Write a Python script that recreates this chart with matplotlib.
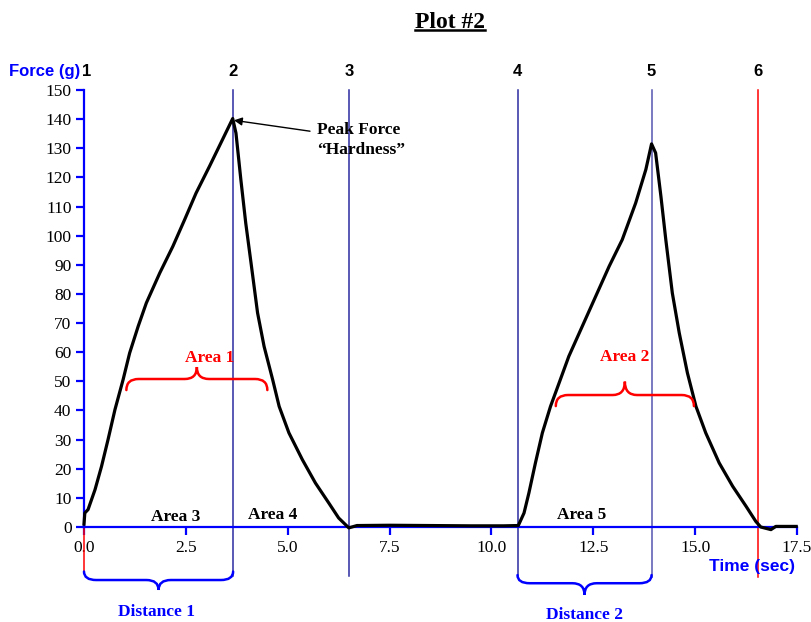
import matplotlib
matplotlib.use("Agg")
import matplotlib.pyplot as plt
from matplotlib.path import Path
from matplotlib.patches import PathPatch
from matplotlib.lines import Line2D

# ---- data ----
time_s = [0.0, 0.02, 0.1, 0.27, 0.43, 0.59, 0.76, 0.96, 1.12, 1.33, 1.53, 1.86, 2.18, 2.47, 2.75, 3.08, 3.40, 3.65,
          3.73, 3.85, 3.97, 4.10, 4.26, 4.42, 4.63, 4.79, 5.03, 5.36, 5.68, 6.01, 6.25, 6.50,
          6.7, 7.5, 8.5, 9.5, 10.3, 10.66,
          10.8, 10.92, 11.08, 11.25, 11.45, 11.66, 11.90, 12.23, 12.56, 12.89, 13.21, 13.54, 13.79, 13.93,
          14.03, 14.16, 14.28, 14.44, 14.61, 14.81, 15.02, 15.26, 15.59, 15.92, 16.25, 16.49, 16.61, 16.86, 16.98, 17.48]
force_g = [1.0, 4.8, 6, 12.8, 20.8, 30, 40.3, 50.6, 59.7, 68.9, 76.9, 87.2, 96.3, 105.5, 114.6, 123.8, 133, 140.2,
           135.2, 119.2, 104.3, 90.6, 73.5, 62, 50.6, 41.4, 32.3, 23.1, 15.1, 8.2, 3.1, -0.3,
           0.5, 0.6, 0.5, 0.4, 0.4, 0.5,
           4.8, 11.7, 22, 32.3, 41.4, 49.4, 58.6, 68.9, 79.2, 89.5, 98.6, 111.2, 122.7, 131.5,
           128.4, 113.5, 98.6, 80.3, 66.6, 52.9, 41.4, 32.3, 22, 14, 7.1, 1.9, 0, -0.9, 0.2, 0.2]

marker_times = [0.0, 3.66, 6.50, 10.64, 13.93, 16.55]
marker_labels = ["1", "2", "3", "4", "5", "6"]
marker_colors = ["#FF0000", "#2B2BA0", "#2B2BA0", "#2B2BA0", "#5555B0", "#FF0000"]
marker_bottoms = [-15.3, -16.8, -16.8, -17.0, -17.0, -17.0]

x_ticks = [0.0, 2.5, 5.0, 7.5, 10.0, 12.5, 15.0, 17.5]
x_tick_labels = ["0.0", "2.5", "5.0", "7.5", "10.0", "12.5", "15.0", "17.5"]
y_ticks = list(range(0, 151, 10))

peak_time, peak_force = 3.68, 139.6

BLUE = "#0000FF"
RED = "#FF0000"
SERIF = ["Liberation Serif", "DejaVu Serif"]
SANS = ["Liberation Sans", "DejaVu Sans"]

fig = plt.figure(figsize=(8.11, 6.22), dpi=100)
ax = fig.add_axes([84 / 811, 1 - 527 / 622, (797 - 84) / 811, (527 - 90) / 622])
ax.set_xlim(0, 17.5)
ax.set_ylim(0, 150)

for s in ["top", "right"]:
    ax.spines[s].set_visible(False)
for s in ["left", "bottom"]:
    ax.spines[s].set_color(BLUE)
    ax.spines[s].set_linewidth(1.6)

ax.set_xticks(x_ticks)
ax.set_xticklabels(x_tick_labels)
ax.set_yticks(y_ticks)
ax.tick_params(axis="both", colors=BLUE, labelcolor="black", length=6, width=1.6, labelsize=12.5, pad=3)
for lab in ax.get_xticklabels() + ax.get_yticklabels():
    lab.set_family(SERIF)

# vertical marker lines
for t, c, b, lab in zip(marker_times, marker_colors, marker_bottoms, marker_labels):
    ax.plot([t, t], [b, 150], color=c, lw=1.1, clip_on=False, zorder=2)
    ax.text(t + (0.07 if lab == "1" else 0), 156.5, lab, ha="center", va="center", fontsize=12,
            fontweight="bold", family=SANS, color="black", clip_on=False)

# force curve
ax.plot(time_s, force_g, color="black", lw=2.3, clip_on=False, zorder=3, solid_joinstyle="round")

# axis labels
ax.text(-0.96, 156.5, "Force (g)", ha="center", va="center", fontsize=12, fontweight="bold",
        family=SANS, color=BLUE, clip_on=False)
ax.text(16.4, -13.5, "Time (sec)", ha="center", va="center", fontsize=12.5, fontweight="bold",
        family=SANS, color=BLUE, clip_on=False)


def brace(x0, x1, y, d, e, color, r=0.3, lw=1.8):
    xm = (x0 + x1) / 2
    verts = [(x0, y + e), (x0, y), (x0 + r, y), (xm - r, y), (xm, y), (xm, y + d),
             (xm, y), (xm + r, y), (x1 - r, y), (x1, y), (x1, y + e)]
    codes = [Path.MOVETO, Path.CURVE3, Path.CURVE3, Path.LINETO, Path.CURVE3, Path.CURVE3,
             Path.CURVE3, Path.CURVE3, Path.LINETO, Path.CURVE3, Path.CURVE3]
    ax.add_patch(PathPatch(Path(verts, codes), fill=False, edgecolor=color, lw=lw,
                           clip_on=False, zorder=4, capstyle="round"))


brace(1.04, 4.50, 50.8, 4.1, -3.8, RED)
brace(11.58, 14.97, 45.3, 4.6, -3.8, RED)
brace(0.0, 3.66, -18.2, -3.4, 2.9, BLUE)
brace(10.64, 13.93, -19.3, -4.0, 2.8, BLUE)

ax.text(3.08, 58.0, "Area 1", ha="center", va="center", fontsize=12.5, fontweight="bold",
        family=SERIF, color=RED)
ax.text(13.26, 58.3, "Area 2", ha="center", va="center", fontsize=12.5, fontweight="bold",
        family=SERIF, color=RED)
ax.text(2.25, 3.6, "Area 3", ha="center", va="center", fontsize=12.5, fontweight="bold",
        family=SERIF, color="black")
ax.text(4.64, 4.1, "Area 4", ha="center", va="center", fontsize=12.5, fontweight="bold",
        family=SERIF, color="black")
ax.text(12.22, 4.1, "Area 5", ha="center", va="center", fontsize=12.5, fontweight="bold",
        family=SERIF, color="black")
ax.text(1.78, -29.3, "Distance 1", ha="center", va="center", fontsize=12.5, fontweight="bold",
        family=SERIF, color=BLUE, clip_on=False)
ax.text(12.28, -30.2, "Distance 2", ha="center", va="center", fontsize=12.5, fontweight="bold",
        family=SERIF, color=BLUE, clip_on=False)

ax.annotate("Peak Force\n\u201cHardness\u201d", xy=(peak_time, peak_force), xytext=(5.72, 132.8),
            ha="left", va="center", fontsize=12.5, fontweight="bold", family=SERIF, color="black",
            linespacing=1.3,
            arrowprops=dict(arrowstyle="-|>", color="black", lw=1.0, mutation_scale=12,
                            shrinkA=0, shrinkB=0, relpos=(-0.08, 0.75)))

# title with underline
title = fig.text(450 / 811, 1 - 22 / 622, "Plot #2", ha="center", va="center", fontsize=17,
                 fontweight="bold", family=SERIF, color="black")
fig.canvas.draw()
bb = title.get_window_extent(renderer=fig.canvas.get_renderer()).transformed(fig.transFigure.inverted())
fig.add_artist(Line2D([bb.x0, bb.x1], [bb.y0 + 0.004, bb.y0 + 0.004], transform=fig.transFigure,
                      color="black", lw=1.8))

fig.savefig("out.png", dpi=100)
